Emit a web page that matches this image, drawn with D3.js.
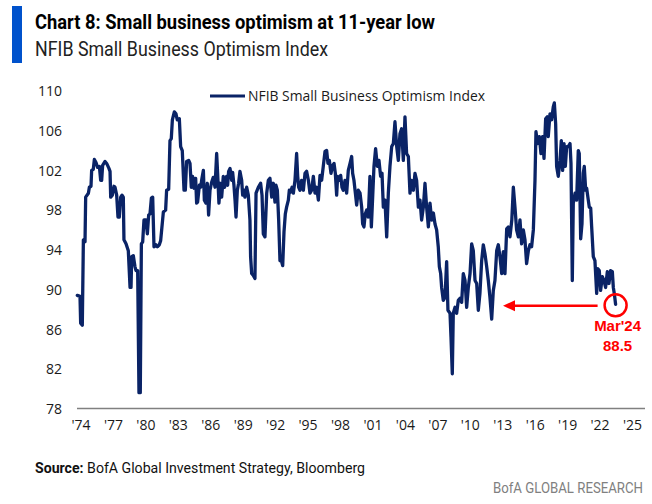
<!DOCTYPE html>
<html>
<head>
<meta charset="utf-8">
<script src="https://cdn.jsdelivr.net/npm/d3@7"></script>
<style>
  html, body { margin: 0; padding: 0; background: #fff; }
  svg { display: block; }
</style>
</head>
<body>
<div id="chart"></div>
<script>
// ---------- data ----------
const titleText = "Chart 8: Small business optimism at 11-year low";
const subtitleText = "NFIB Small Business Optimism Index";
const seriesName = "NFIB Small Business Optimism Index";
const yTicks = [78, 82, 86, 90, 94, 98, 102, 106, 110];
const xTickLabels = ["'74","'77","'80","'83","'86","'89","'92","'95","'98","'01","'04","'07","'10","'13","'16","'19","'22","'25"];

// decimal-year dates of the points
const dates = [
1974.67,1974.92,1974.98,1975.13,1975.23,1975.38,1975.44,1975.69,1975.78,1975.93,
1975.99,1976.14,1976.24,1976.39,1976.54,1976.70,1976.82,1976.91,1977.00,1977.22,
1977.37,1977.58,1977.68,1977.74,1977.89,1978.04,1978.14,1978.29,1978.41,1978.53,
1978.66,1978.78,1978.90,1978.96,1979.15,1979.36,1979.52,1979.61,1979.67,1979.82,
1979.97,1980.07,1980.22,1980.34,1980.46,1980.56,1980.68,1980.80,1980.98,1981.11,
1981.23,1981.35,1981.48,1981.60,1981.72,1981.90,1982.03,1982.21,1982.33,1982.58,
1982.79,1982.88,1983.07,1983.19,1983.31,1983.41,1983.59,1983.74,1983.86,1984.05,
1984.17,1984.32,1984.48,1984.60,1984.72,1984.91,1985.03,1985.15,1985.27,1985.40,
1985.55,1985.64,1985.73,1985.89,1986.01,1986.13,1986.26,1986.35,1986.50,1986.62,
1986.74,1986.87,1987.02,1987.17,1987.33,1987.48,1987.57,1987.69,1987.82,1987.94,
1988.09,1988.21,1988.31,1988.40,1988.49,1988.58,1988.71,1988.86,1988.95,1989.07,
1989.17,1989.26,1989.38,1989.50,1989.62,1989.78,1989.87,1989.99,1990.08,1990.24,
1990.39,1990.54,1990.60,1990.70,1990.85,1991.00,
1991.10,1991.31,1991.52,1991.65,1991.77,1991.92,1992.08,1992.23,1992.38,1992.54,
1992.69,1992.84,1992.93,1993.06,1993.18,1993.30,1993.45,1993.55,1993.67,1993.79,
1993.91,1994.07,1994.16,1994.28,1994.41,1994.53,1994.68,1994.83,1994.93,1995.02,
1995.14,1995.29,1995.45,1995.60,1995.75,1995.91,1996.06,1996.21,1996.37,1996.52,
1996.67,1996.83,1996.98,1997.13,1997.28,1997.44,1997.59,1997.71,1997.84,1997.99,
1998.14,1998.27,1998.39,1998.51,1998.60,1998.76,1998.88,1999.00,1999.12,1999.28,
1999.43,1999.58,1999.74,1999.89,1999.98,2000.10,2000.23,2000.35,2000.50,2000.66,
2000.81,2000.90,2001.02,2001.14,2001.27,2001.42,2001.57,2001.70,2001.82,2001.94,
2002.09,2002.25,2002.40,2002.55,2002.68,2002.80,2002.95,2003.11,2003.26,2003.41,
2003.57,2003.72,
2003.87,2004.03,2004.18,2004.33,2004.48,2004.64,2004.79,2004.94,2005.10,2005.25,
2005.40,2005.56,2005.71,2005.86,2006.02,2006.17,2006.32,2006.48,2006.63,2006.78,
2006.94,2007.09,2007.24,2007.40,2007.55,2007.70,2007.85,2007.95,2008.07,2008.16,
2008.31,2008.47,2008.62,2008.74,2008.93,2009.02,2009.14,2009.23,2009.39,2009.54,
2009.69,2009.85,2010.00,2010.15,2010.31,2010.46,2010.61,2010.77,2010.92,2011.07,
2011.23,2011.38,2011.53,2011.68,2011.84,2011.99,2012.14,2012.30,2012.45,2012.60,
2012.76,2012.91,2013.06,2013.22,2013.37,2013.52,2013.68,2013.83,2013.98,2014.14,
2014.29,2014.44,2014.61,2014.75,2014.90,2015.05,2015.21,2015.36,2015.51,2015.67,
2015.82,2015.97,2016.13,2016.28,2016.43,2016.59,2016.74,2016.83,2016.98,2017.14,
2017.29,2017.44,2017.57,2017.72,2017.87,2017.96,2018.12,2018.27,2018.42,2018.52,
2018.64,2018.73,2018.88,2019.04,2019.16,2019.28,2019.41,2019.53,2019.65,2019.80,
2019.96,2020.05,2020.17,2020.26,2020.42,2020.57,2020.72,2020.81,2020.94,2021.06,
2021.18,2021.27,2021.40,2021.49,2021.64,2021.73,2021.86,2021.95,2022.10,2022.25,
2022.41,2022.50,2022.65,2022.77,2022.93,2023.08,2023.23,2023.39,2023.54,2023.69,
2023.85,2023.94,2024.03,2024.15
];

// index values
const values = [
89.4,89.3,86.6,86.4,95.0,94.8,99.3,99.7,100.3,100.4,
102.0,102.1,103.1,102.8,102.3,102.4,101.0,101.0,102.5,102.9,
102.7,102.2,101.9,99.3,99.5,100.4,100.3,99.5,97.3,97.3,
99.3,99.5,99.3,95.0,94.6,93.9,90.2,90.2,93.3,93.4,
92.3,91.9,91.9,79.6,79.6,94.6,94.8,97.0,97.0,95.6,
97.5,97.6,99.2,99.3,94.3,94.5,94.3,94.5,94.9,97.8,
98.0,100.0,100.1,105.0,105.2,107.1,107.9,107.7,107.1,107.2,
104.4,104.0,100.0,100.0,102.9,103.0,102.7,100.3,101.4,100.2,
101.2,98.7,98.8,100.5,100.3,101.2,102.0,99.0,98.7,100.7,
97.5,100.0,100.8,101.3,100.3,103.7,101.7,98.7,100.7,99.3,
101.4,100.3,100.8,101.4,100.5,101.9,102.2,101.0,101.8,100.5,
99.0,97.3,100.0,100.7,101.9,101.0,99.5,100.0,99.3,100.3,
99.5,97.0,93.3,91.6,91.4,91.1,
99.7,100.3,100.7,99.5,95.6,95.3,99.7,101.0,101.2,99.3,
100.7,98.8,100.5,100.0,97.0,92.9,92.8,92.4,95.8,97.6,
98.3,99.0,100.0,99.8,100.3,99.7,101.0,103.7,101.4,100.3,
100.0,101.0,100.0,101.7,101.9,101.0,99.7,100.0,101.4,99.7,
100.3,99.0,101.5,101.0,102.4,103.9,104.0,102.7,103.0,101.7,
102.5,102.7,101.7,99.5,101.4,101.0,101.5,100.3,100.0,101.0,
99.7,102.0,102.7,103.4,101.7,101.0,99.7,98.5,100.0,99.7,
98.3,96.6,96.3,97.6,98.0,97.3,101.4,96.3,99.3,102.4,
104.2,102.4,103.0,101.4,101.7,98.3,99.0,95.3,99.7,102.4,
104.4,104.7,
106.9,104.4,103.0,105.7,106.2,103.0,107.4,103.7,103.4,99.7,
101.0,100.0,101.7,101.0,98.3,99.0,97.0,98.3,100.7,98.3,
96.3,98.7,97.0,97.7,96.6,96.0,94.3,92.3,91.6,90.2,
88.9,89.2,92.8,87.9,87.6,85.2,81.5,87.6,88.2,87.6,
88.9,89.1,88.7,91.6,90.9,88.2,90.2,91.6,94.6,93.9,
90.9,90.6,87.9,89.6,92.9,94.5,93.6,92.3,90.9,89.2,
87.0,89.9,90.9,93.9,94.5,93.3,91.6,93.8,91.6,96.1,
96.3,95.3,97.0,100.3,98.3,96.0,95.3,97.0,94.6,96.0,
95.0,92.6,93.9,94.5,94.3,96.0,101.0,105.9,104.7,105.4,
103.7,105.4,103.2,107.2,107.4,105.4,107.7,107.1,108.4,108.8,
106.7,102.4,101.4,103.0,105.0,102.0,104.7,102.4,104.4,104.4,
104.7,102.7,90.9,98.7,99.7,99.0,104.0,103.7,95.1,96.6,
101.7,102.4,100.0,100.2,99.0,98.3,98.2,96.3,93.3,92.9,
89.6,92.1,91.9,89.9,91.3,90.9,90.2,91.8,90.6,91.9,
91.8,90.2,89.6,88.5
];

const latestLabel = "Mar'24";
const latestValue = 88.5;
const arrowTargetDate = 2013.8;
const sourceBold = "Source:";
const sourceRest = " BofA Global Investment Strategy, Bloomberg";
const brandText = "BofA GLOBAL RESEARCH";

// ---------- layout ----------
const W = 652, H = 504;
const navy = "#0a2366";
const red = "#ff0000";
const bodyFont = "'Open Sans', 'Liberation Sans', sans-serif";
const narrowFont = "'Liberation Sans Narrow', 'Roboto', 'Liberation Sans', sans-serif";

const svg = d3.select("#chart").append("svg")
  .attr("width", W).attr("height", H);

// title block
svg.append("rect").attr("x", 12).attr("y", 6).attr("width", 10).attr("height", 57)
  .attr("fill", "#0052cc");
svg.append("text").attr("x", 35).attr("y", 29)
  .attr("font-family", narrowFont).attr("font-weight", "bold").attr("font-size", 19.5)
  .attr("fill", "#000").attr("textLength", 400).attr("lengthAdjust", "spacingAndGlyphs")
  .text(titleText);
svg.append("text").attr("x", 35).attr("y", 56)
  .attr("font-family", narrowFont).attr("font-size", 19.5)
  .attr("fill", "#222").attr("textLength", 293).attr("lengthAdjust", "spacingAndGlyphs")
  .text(subtitleText);

// scales
const x = d3.scaleLinear().domain([1974, 2024.15]).range([70, 615.6]);
const y = d3.scaleLinear().domain([78, 110]).range([408.5, 91]);
const xLab = d3.scalePoint().domain(xTickLabels).range([80.5, 632]);

// y axis (labels only)
const yAxis = d3.axisLeft(y).tickValues(yTicks).tickSize(0).tickPadding(0).tickFormat(d3.format("d"));
const gy = svg.append("g").attr("transform", "translate(62,0)").call(yAxis);
gy.select(".domain").remove();
gy.selectAll("text").attr("font-family", bodyFont).attr("font-size", 14).attr("fill", "#1a1a1a")
  .attr("dy", "0.35em");

// x axis: baseline + labels
svg.append("line").attr("x1", 77).attr("x2", 645).attr("y1", y(78)).attr("y2", y(78))
  .attr("stroke", "#808080").attr("stroke-width", 1.5);
const xAxis = d3.axisBottom(xLab).tickSize(0).tickPadding(0);
const gx = svg.append("g").attr("transform", "translate(0,420)").call(xAxis);
gx.select(".domain").remove();
gx.selectAll("text").attr("font-family", bodyFont).attr("font-size", 14).attr("fill", "#1a1a1a")
  .attr("dy", "0.71em");

// series line
const pts = dates.map((d, i) => [d, values[i]]);
svg.append("path").datum(pts)
  .attr("fill", "none").attr("stroke", navy).attr("stroke-width", 3.3)
  .attr("stroke-linejoin", "round").attr("stroke-linecap", "round")
  .attr("d", d3.line().x(d => x(d[0])).y(d => y(d[1])));

// legend
svg.append("line").attr("x1", 210).attr("x2", 245).attr("y1", 96).attr("y2", 96)
  .attr("stroke", navy).attr("stroke-width", 3.2);
svg.append("text").attr("x", 248).attr("y", 101)
  .attr("font-family", bodyFont).attr("font-size", 14).attr("fill", "#1a1a1a")
  .attr("textLength", 237).attr("lengthAdjust", "spacingAndGlyphs")
  .text(seriesName);

// annotation
const lastX = x(dates[dates.length - 1]);
const lastY = y(latestValue);
svg.append("circle").attr("cx", lastX).attr("cy", lastY + 1).attr("r", 11)
  .attr("fill", "none").attr("stroke", red).attr("stroke-width", 2.5);
const ay = lastY + 1.5;
const tipX = x(arrowTargetDate);
svg.append("line").attr("x1", lastX - 18).attr("x2", tipX + 10).attr("y1", ay).attr("y2", ay)
  .attr("stroke", red).attr("stroke-width", 2.5);
svg.append("path")
  .attr("d", d3.line()([[tipX, ay], [tipX + 12, ay - 5.5], [tipX + 12, ay + 5.5]]) + "Z")
  .attr("fill", red);
svg.append("text").attr("x", lastX + 2).attr("y", 331).attr("text-anchor", "middle")
  .attr("font-family", "'Liberation Sans', sans-serif").attr("font-weight", "bold").attr("font-size", 15)
  .attr("fill", red).text(latestLabel);
svg.append("text").attr("x", lastX + 2).attr("y", 350.5).attr("text-anchor", "middle")
  .attr("font-family", "'Liberation Sans', sans-serif").attr("font-weight", "bold").attr("font-size", 15)
  .attr("fill", red).text(d3.format(".1f")(latestValue));

// source + brand
const src = svg.append("text").attr("x", 35).attr("y", 473)
  .attr("font-family", narrowFont).attr("font-size", 14.5).attr("fill", "#111")
  .attr("textLength", 330).attr("lengthAdjust", "spacingAndGlyphs");
src.append("tspan").attr("font-weight", "bold").text(sourceBold);
src.append("tspan").text(sourceRest);
svg.append("text").attr("x", 643).attr("y", 493).attr("text-anchor", "end")
  .attr("font-family", narrowFont).attr("font-size", 14).attr("fill", "#808080")
  .attr("textLength", 150).attr("lengthAdjust", "spacingAndGlyphs")
  .text(brandText);
</script>
</body>
</html>
